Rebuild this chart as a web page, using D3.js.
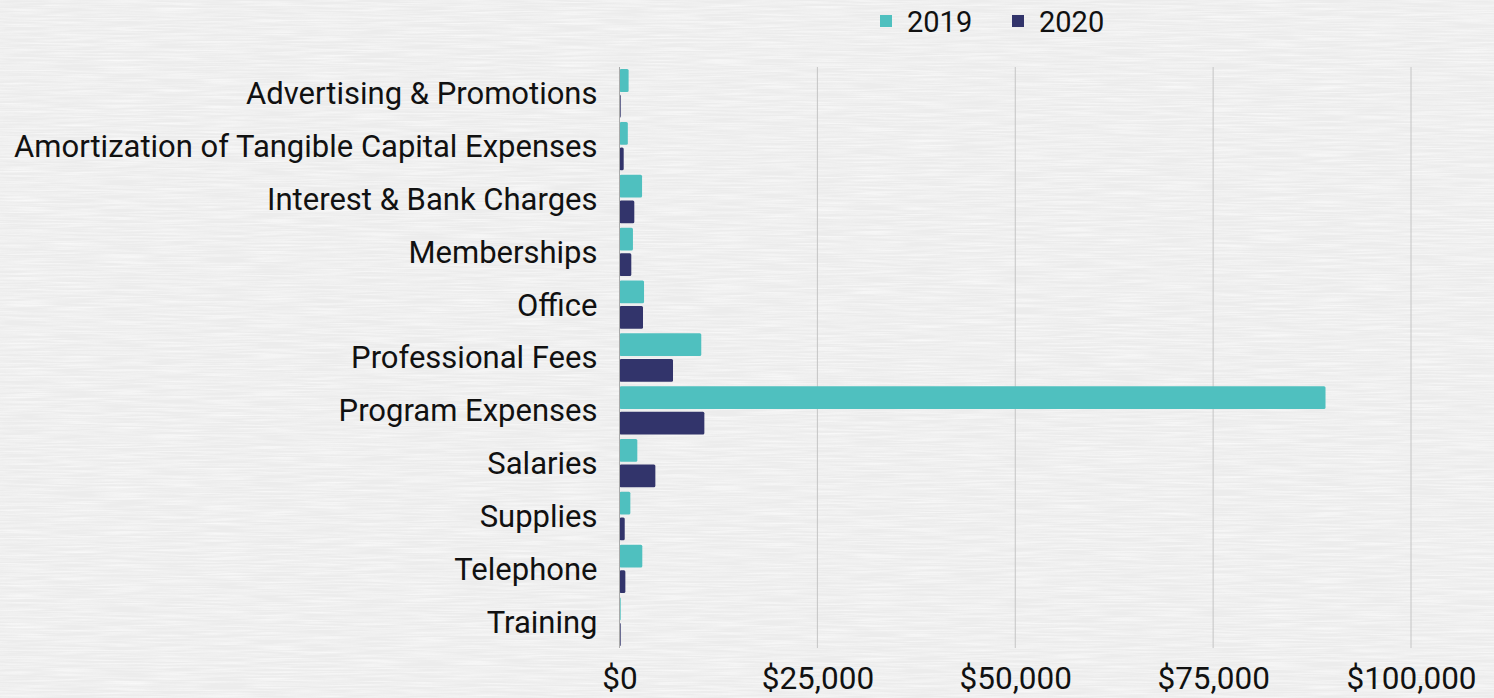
<!DOCTYPE html>
<html>
<head>
<meta charset="utf-8">
<script src="https://cdn.jsdelivr.net/npm/d3@7"></script>
<style>
  html, body { margin: 0; padding: 0; background: #efefef; }
  svg { display: block; }
</style>
</head>
<body>
<script>
const categories = [
  "Advertising & Promotions",
  "Amortization of Tangible Capital Expenses",
  "Interest & Bank Charges",
  "Memberships",
  "Office",
  "Professional Fees",
  "Program Expenses",
  "Salaries",
  "Supplies",
  "Telephone",
  "Training"
];
const seriesNames = ["2019", "2020"];
const values2019 = [1150, 1050, 2850, 1700, 3100, 10330, 89200, 2250, 1370, 2880, 150];
const values2020 = [120, 530, 1870, 1490, 2970, 6760, 10720, 4530, 660, 740, 120];
const xTicks = [0, 25000, 50000, 75000, 100000];
const colors = ["#4fc0bf", "#32346b"];

const W = 1494, H = 698;
const margin = { top: 67, right: 83, bottom: 50, left: 619.5 };

const svg = d3.select("body").append("svg").attr("width", W).attr("height", H);

// paper-like background texture
const defs = svg.append("defs");
const f = defs.append("filter").attr("id", "paper").attr("x", 0).attr("y", 0).attr("width", "100%").attr("height", "100%");
f.append("feTurbulence").attr("type", "fractalNoise").attr("baseFrequency", "0.02 0.6").attr("numOctaves", 2).attr("seed", 3).attr("result", "n");
f.append("feColorMatrix").attr("in", "n").attr("type", "matrix")
  .attr("values", "0 0 0 0 1  0 0 0 0 1  0 0 0 0 1  0 0 0 -1.6 1.05");
svg.append("rect").attr("width", W).attr("height", H).attr("fill", "#ececec");
svg.append("rect").attr("width", W).attr("height", H).attr("filter", "url(#paper)").attr("opacity", 0.75);

const x = d3.scaleLinear().domain([0, 100000]).range([margin.left, W - margin.right]);
const y = d3.scaleBand().domain(categories).range([margin.top, H - margin.bottom]).paddingInner(0.085).paddingOuter(0.04);
const ySub = d3.scaleBand().domain(seriesNames).range([0, y.bandwidth()]).paddingInner(0.11);

// gridlines
svg.append("g").selectAll("line").data(xTicks.slice(1)).join("line")
  .attr("x1", d => x(d)).attr("x2", d => x(d))
  .attr("y1", margin.top).attr("y2", H - margin.bottom)
  .attr("stroke", "#c4c4c4").attr("stroke-width", 1);

// bars
const data = categories.map((c, i) => ({ c, vals: [values2019[i], values2020[i]] }));
const groups = svg.append("g").selectAll("g").data(data).join("g")
  .attr("transform", d => `translate(0,${y(d.c)})`);
groups.selectAll("rect").data(d => d.vals.map((v, j) => ({ v, s: seriesNames[j], j }))).join("rect")
  .attr("x", x(0))
  .attr("y", d => ySub(d.s))
  .attr("width", d => Math.max(1.2, x(d.v) - x(0)))
  .attr("height", ySub.bandwidth())
  .attr("rx", 1.5)
  .attr("fill", d => colors[d.j]);

// axis line at zero
svg.append("line").attr("x1", x(0)).attr("x2", x(0))
  .attr("y1", margin.top).attr("y2", H - margin.bottom)
  .attr("stroke", "#a9a9a9").attr("stroke-width", 1);

const font = "Roboto, 'Noto Sans', sans-serif";

// y labels
const yAxis = d3.axisLeft(y).tickSize(0).tickPadding(22);
const ya = svg.append("g").attr("transform", `translate(${x(0)},0)`).call(yAxis);
ya.select(".domain").remove();
ya.selectAll("text").attr("font-family", font).attr("font-size", 31).attr("fill", "#111")
  .attr("dy", "0.35em");

// x labels
const xAxis = d3.axisBottom(x).tickValues(xTicks).tickSize(0).tickPadding(19)
  .tickFormat(d => "$" + d3.format(",")(d));
const xa = svg.append("g").attr("transform", `translate(0,${H - margin.bottom})`).call(xAxis);
xa.select(".domain").remove();
xa.selectAll("text").attr("font-family", font).attr("font-size", 31.5).attr("fill", "#111");

// legend
const legend = svg.append("g");
const legendX = [880, 1012];
seriesNames.forEach((s, i) => {
  legend.append("rect").attr("x", legendX[i]).attr("y", 15).attr("width", 12).attr("height", 12).attr("fill", colors[i]);
  legend.append("text").attr("x", legendX[i] + 27).attr("y", 22).attr("dy", "0.36em")
    .attr("font-family", font).attr("font-size", 29).attr("fill", "#111").text(s);
});
</script>
</body>
</html>
